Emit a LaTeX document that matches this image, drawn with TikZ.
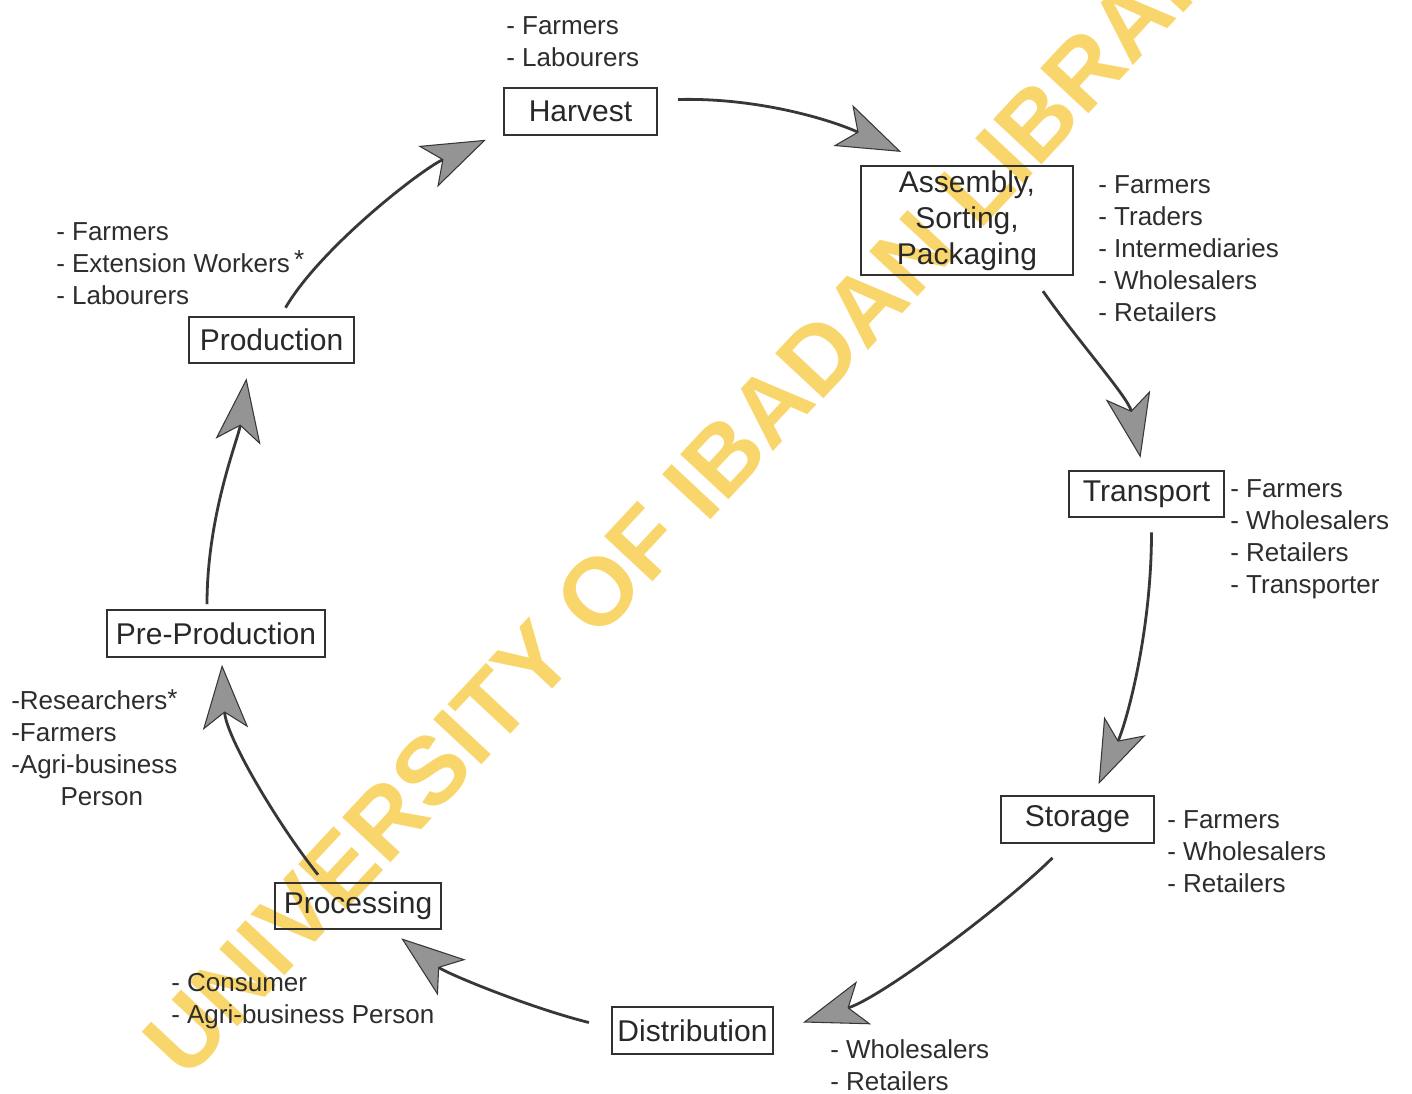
\documentclass[tikz,border=0pt]{standalone}
\usepackage{fontspec}
\setmainfont{Liberation Sans}
\usetikzlibrary{arrows.meta,calc}
\begin{document}
\begin{tikzpicture}[x=0.75pt,y=0.75pt,yscale=-1,xscale=1,
    stage/.style={draw={rgb, 255:red, 50; green, 50; blue, 50 },line width=1.4pt,inner sep=0.75pt,minimum height=35pt,align=center,text={rgb, 255:red, 40; green, 40; blue, 40 },font=\fontsize{22.5}{27}\selectfont},
    who/.style={anchor=north west,inner sep=0.75pt,align=left,text={rgb, 255:red, 45; green, 45; blue, 45 },font=\fontsize{19.5}{24}\selectfont},
    flow/.style={draw={rgb, 255:red, 55; green, 55; blue, 55 },line width=2.1pt,-{Stealth[length=48pt,width=34pt,inset=12pt,fill=black!42,line width=0.8pt]}}]
    \useasboundingbox (0,0) rectangle (1412,1093);
    \fill [white] (0,0) rectangle (1412,1093);
    \begin{scope}
    \clip (0,0) rectangle (1412,1093);
    \node [rotate=47,anchor=base west,inner sep=0pt,opacity=0.9,text={rgb, 255:red, 249; green, 210; blue, 92 },font=\fontsize{72}{72}\bfseries\selectfont] (mark) at (186,1082) {UNIVERSITY OF IBADAN LIBRARY};
    \end{scope}
    \node [stage,minimum width=115pt] (harvest) at (580.5,111.5) {Harvest};
    \node [stage,minimum width=159pt,minimum height=82pt] (assembly) at (967,220.5) {Assembly,\\Sorting,\\Packaging};
    \node [stage,minimum width=116pt] (transport) at (1146.5,494) {Transport};
    \node [stage,minimum width=115pt] (storage) at (1077.5,819.5) {Storage};
    \node [stage,minimum width=121pt] (distribution) at (692.5,1030.5) {Distribution};
    \node [stage,minimum width=125pt] (processing) at (358,906) {Processing};
    \node [stage,minimum width=164pt] (preprod) at (216,633.5) {Pre-Production};
    \node [stage,minimum width=124pt] (production) at (271.5,340) {Production};
    \draw (505,15) node [who] (harvestwho) {- Farmers\\- Labourers};
    \draw (1097,174) node [who] (assemblywho) {- Farmers\\- Traders\\- Intermediaries\\- Wholesalers\\- Retailers};
    \draw (1229,478) node [who] (transportwho) {- Farmers\\- Wholesalers\\- Retailers\\- Transporter};
    \draw (1166,809) node [who] (storagewho) {- Farmers\\- Wholesalers\\- Retailers};
    \draw (829,1038) node [who] (distributionwho) {- Wholesalers\\- Retailers};
    \draw (170,972) node [who] (processingwho) {- Consumer\\- Agri-business Person};
    \draw (10,688) node [who] (preprodwho) {-Researchers\raisebox{2pt}{*}\\-Farmers\\-Agri-business\\\hspace{37pt}Person};
    \draw (55,221) node [who] (productionwho) {- Farmers\\- Extension Workers\,\raisebox{3pt}{*}\\- Labourers};
    \draw [flow] ($(production.north)+(14,-8)$) .. controls +(35,-60) and +(-65,30) .. ($(harvest.south west)+(-17,4)$);
    \draw [flow] ($(harvest.east)+(20,-12)$) .. controls +(80,-2) and +(-70,-32) .. ($(assembly.north west)+(41,-13)$);
    \draw [flow] ($(assembly.south east)+(-31,15)$) .. controls +(35,50) and +(-12,-60) .. ($(transport.north)+(-6,-12)$);
    \draw [flow] ($(transport.south)+(5,14)$) .. controls +(0,100) and +(28,-62) .. ($(storage.north)+(21,-11)$);
    \draw [flow] ($(storage.south)+(-25,14)$) .. controls +(-45,45) and +(80,-26) .. ($(distribution.east)+(29,-8)$);
    \draw [flow] ($(distribution.west)+(-22,-8)$) .. controls +(-60,-15) and +(45,35) .. ($(processing.south east)+(-41,8)$);
    \draw [flow] ($(processing.north)+(-40,-7)$) .. controls +(-40,-50) and +(4,72) .. ($(preprod.south)+(6,7)$);
    \draw [flow] ($(preprod.north)+(-9,-5)$) .. controls +(0,-90) and +(-8,60) .. ($(production.south)+(-25,14)$);
\end{tikzpicture}
\end{document}
